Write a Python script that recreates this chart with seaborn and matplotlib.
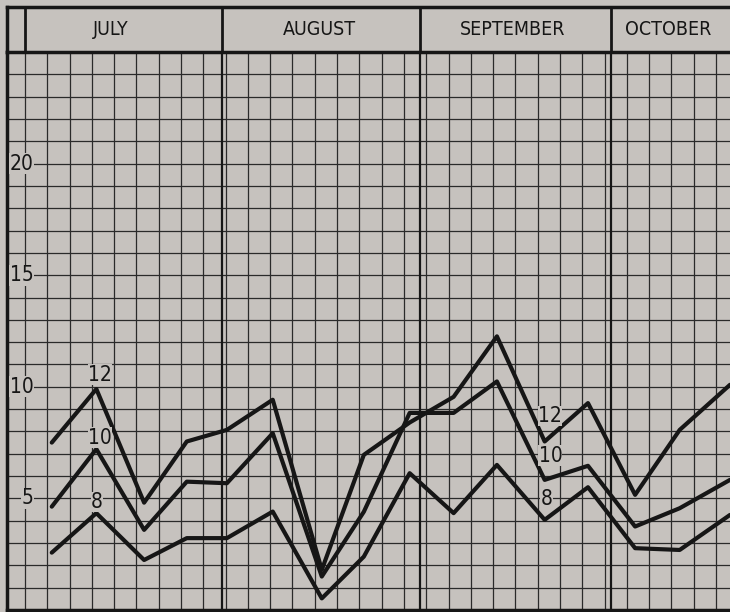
import numpy as np
import pandas as pd
import matplotlib
matplotlib.use("Agg")
import matplotlib.pyplot as plt
import seaborn as sns

#---------------chart data------------------------------------------
# x = days counted from July 1, one reading a week
days = [4.2, 11.2, 18.7, 25.4, 31.7, 38.9, 46.6, 53.2, 60.4, 67.3, 74.1, 81.6, 88.4, 95.8, 102.8, 110.7]
series_12 = [7.50, 9.90, 4.81, 7.55, 8.07, 9.42, 1.80, 6.95, 8.40, 9.55, 12.26, 7.55, 9.27, 5.16, 8.07, 10.09]
series_10 = [4.63, 7.21, 3.59, 5.75, 5.68, 7.92, 1.50, 4.40, 8.83, 8.83, 10.24, 5.83, 6.46, 3.74, 4.56, 5.83]
series_8 = [2.57, 4.34, 2.24, 3.22, 3.22, 4.41, 0.52, 2.39, 6.13, 4.34, 6.50, 4.04, 5.50, 2.77, 2.69, 4.26]

months = ['JULY', 'AUGUST', 'SEPTEMBER', 'OCTOBER']
month_label_pos = [13.5, 46.3, 76.6, 101.0]
month_starts = [31, 62, 92]
y_labels = [5, 10, 15, 20]

# curve labels: (text, x, y)
curve_labels = [('12', 11.8, 10.55), ('10', 11.8, 7.72), ('8', 11.3, 4.85),
                ('12', 82.4, 8.70), ('10', 82.5, 6.92), ('8', 81.9, 4.97)]

df = pd.concat([
    pd.DataFrame({'day': days, 'value': series_12, 'series': '12'}),
    pd.DataFrame({'day': days, 'value': series_10, 'series': '10'}),
    pd.DataFrame({'day': days, 'value': series_8, 'series': '8'}),
])

#---------------drawing-----------------
bg = '#c6c2be'
ink = '#161616'

sns.set_style('white')
plt.rcParams['font.family'] = ['Liberation Sans Narrow', 'DejaVu Sans']
plt.rcParams['font.stretch'] = 'condensed'

fig = plt.figure(figsize=(7.30, 6.12), dpi=100)
fig.patch.set_facecolor(bg)

xlim = (-2.83, 110.7)

ax = fig.add_axes([7/730, 2/612, 723/730, 558/612])
ax.set_facecolor(bg)
ax.set_xlim(*xlim)
ax.set_ylim(0, 25)

ax.set_xticks(np.arange(0, 111, 3.5))
ax.set_yticks(np.arange(0, 26, 1))
ax.grid(True, color='#2a2a2a', lw=0.9)
ax.set_axisbelow(True)
ax.tick_params(length=0, labelbottom=False, labelleft=False)

for m in month_starts:
    ax.axvline(m, color=ink, lw=1.6, zorder=1.5)

sns.lineplot(data=df, x='day', y='value', hue='series',
             palette={'12': ink, '10': ink, '8': ink},
             estimator=None, lw=3.0, legend=False, ax=ax, zorder=3)
ax.set_xlabel('')
ax.set_ylabel('')

for v in y_labels:
    ax.text(1.3, v, str(v), ha='right', va='center', fontsize=15, color=ink,
            stretch='condensed', bbox=dict(fc=bg, ec='none', pad=0.5), zorder=4)

for txt, x, y in curve_labels:
    ax.text(x, y, txt, ha='center', va='center', fontsize=15, color=ink,
            stretch='condensed', bbox=dict(fc=bg, ec='none', pad=0.2), zorder=4)

for side in ['top', 'right']:
    ax.spines[side].set_visible(False)
for side in ['left', 'bottom']:
    ax.spines[side].set_color(ink)
    ax.spines[side].set_linewidth(2.5)

#---------------month header-----------------
hax = fig.add_axes([7/730, 560/612, 723/730, 45/612])
hax.set_facecolor(bg)
hax.set_xlim(*xlim)
hax.set_ylim(0, 1)
hax.set_xticks([])
hax.set_yticks([])
for m in [0] + month_starts:
    hax.axvline(m, color=ink, lw=2.0)
for name, x in zip(months, month_label_pos):
    hax.text(x, 0.5, name, ha='center', va='center', fontsize=14, color=ink,
             stretch='condensed')
hax.spines['right'].set_visible(False)
for side in ['top', 'left', 'bottom']:
    hax.spines[side].set_color(ink)
    hax.spines[side].set_linewidth(2.5)

fig.savefig('out.png', dpi=100, facecolor=bg)
